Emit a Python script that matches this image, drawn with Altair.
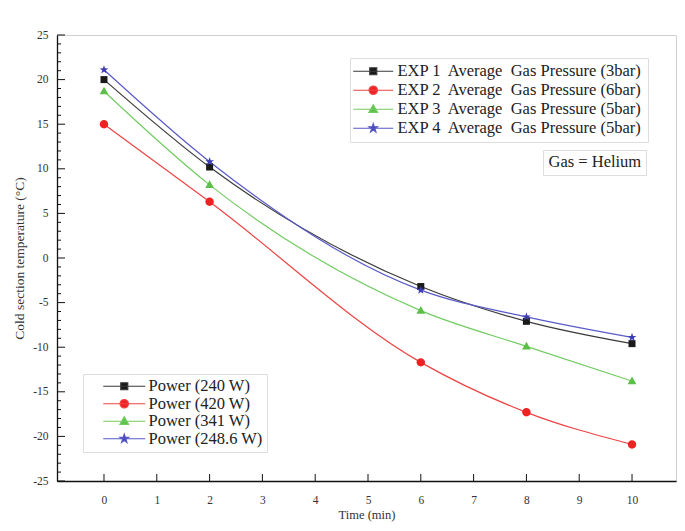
import math
import altair as alt
import pandas as pd

# ---------------- data ----------------
times = [0, 2, 6, 8, 10]
exp1 = [20.0, 10.2, -3.2, -7.1, -9.6]
exp2 = [15.0, 6.3, -11.7, -17.3, -20.9]
exp3 = [18.7, 8.2, -5.9, -9.9, -13.8]
exp4 = [21.1, 10.8, -3.6, -6.6, -8.9]

series_keys = ["s1", "s2", "s3", "s4"]
exp_labels = [
    "EXP 1\u00a0 Average\u00a0 Gas Pressure (3bar)",
    "EXP 2\u00a0 Average\u00a0 Gas Pressure (6bar)",
    "EXP 3\u00a0 Average\u00a0 Gas Pressure (5bar)",
    "EXP 4\u00a0 Average\u00a0 Gas Pressure (5bar)",
]
power_labels = ["Power (240 W)", "Power (420 W)", "Power (341 W)", "Power (248.6 W)"]
note_label = ["Gas = Helium"]

x_ticks = list(range(0, 11))
y_major = list(range(-25, 26, 5))
y_minor = [v for v in range(-25, 26) if v % 5 != 0]

# ---------------- styles ----------------
line_colors = ["#3a3a3a", "#ee4444", "#72cc62", "#5a5ac8"]
marker_colors = ["#1a1a1a", "#ee2222", "#5cc048", "#3c3cb4"]
FONT = "Liberation Serif"
W, H = 619, 446
LFS = 16.5


def star(R, r, cx=0.0):
    pts = []
    for k in range(10):
        a = -math.pi / 2 + k * math.pi / 5
        rad = R if k % 2 == 0 else r
        pts.append(f"{cx + rad * math.cos(a):.3f},{rad * math.sin(a):.3f}")
    return "M" + "L".join(pts) + "Z"


def markers(cx=0.0):
    return [
        f"M{cx - 1:.3f},-1H{cx + 1:.3f}V1H{cx - 1:.3f}Z",
        f"M{cx - 1.2:.3f},0A1.2,1.2,0,1,0,{cx + 1.2:.3f},0A1.2,1.2,0,1,0,{cx - 1.2:.3f},0Z",
        f"M{cx:.3f},-1.3L{cx + 1.25:.3f},0.9L{cx - 1.25:.3f},0.9Z",
        star(1.3, 0.52, cx),
    ]


def legend_paths(x0, x1, cx):
    return [f"M{x0:.3f},0H{x1:.3f}" + m for m in markers(cx)]


marker_paths = markers(0.0)
legend1_paths = legend_paths(-2.86, 8.57, 2.86)
legend2_paths = legend_paths(2.29, 14.29, 8.29)

rows = []
for key, e, p, vals in zip(series_keys, exp_labels, power_labels, [exp1, exp2, exp3, exp4]):
    for t, v in zip(times, vals):
        rows.append({"key": key, "exp": e, "power": p, "t": t, "v": v})
df = pd.DataFrame(rows)

xs = alt.Scale(domain=[-0.89, 10.833], nice=False, zero=False)
ys = alt.Scale(domain=[-25, 25], nice=False, zero=False)

x_axis = alt.Axis(
    values=x_ticks, title="Time (min)", ticks=False, tickSize=0, grid=False,
    labelPadding=13, titlePadding=3, domainColor="#111111", domainWidth=1.3,
    labelFont=FONT, labelFontSize=11.5, labelColor="#333333",
    titleFont=FONT, titleFontSize=12.5, titleFontWeight="normal", titleColor="#333333",
    labelExpr="'' + datum.value",
)
y_axis = alt.Axis(
    values=y_major, title="Cold section temperature (°C)", ticks=False, tickSize=0, grid=False,
    labelPadding=9, titlePadding=6, domainColor="#111111", domainWidth=1.3,
    labelFont=FONT, labelFontSize=11.5, labelColor="#333333",
    titleFont=FONT, titleFontSize=13.5, titleFontWeight="normal", titleColor="#333333",
    labelExpr="'' + datum.value",
)

X = alt.X("t:Q", scale=xs, axis=x_axis)
Y = alt.Y("v:Q", scale=ys, axis=y_axis)

lines = alt.Chart(df).mark_line(interpolate="monotone", strokeWidth=1.2).encode(
    x=X, y=Y,
    color=alt.Color("key:N", scale=alt.Scale(domain=series_keys, range=line_colors), legend=None),
)

points = alt.Chart(df).mark_point(filled=True, size=49, opacity=1).encode(
    x=X, y=Y,
    shape=alt.Shape("key:N", scale=alt.Scale(domain=series_keys, range=marker_paths), legend=None),
    color=alt.Color("key:N", scale=alt.Scale(domain=series_keys, range=marker_colors), legend=None),
)


def legend_layer(field, labels, paths, lx, ly, pad, row_pad, lab_off):
    leg = alt.Legend(
        title=None, orient="none", legendX=lx, legendY=ly,
        strokeColor="#dddddd", fillColor="white", padding=pad,
        labelFont=FONT, labelFontSize=LFS, labelColor="#222222", labelOffset=lab_off,
        labelLimit=500,
        symbolSize=49, symbolStrokeWidth=1.2, symbolOpacity=1, rowPadding=row_pad,
    )
    return alt.Chart(df).mark_point(filled=True, size=49, opacity=0).encode(
        x=X, y=Y,
        shape=alt.Shape(f"{field}:N", scale=alt.Scale(domain=labels, range=paths), legend=leg),
        fill=alt.Fill(f"{field}:N", scale=alt.Scale(domain=labels, range=marker_colors), legend=leg),
        stroke=alt.Stroke(f"{field}:N", scale=alt.Scale(domain=labels, range=line_colors), legend=leg),
    )


leg1 = legend_layer("exp", exp_labels, legend1_paths, 293, 23, 5, 2, 26)
leg2 = legend_layer("power", power_labels, legend2_paths, 26, 339, 4, 0.5, 45)

note = alt.Chart(df).transform_calculate(note="'Gas = Helium'").mark_point(opacity=0).encode(
    x=X, y=Y,
    color=alt.Color("note:N", scale=alt.Scale(domain=note_label, range=["white"]),
                    legend=alt.Legend(title=None, orient="none", legendX=486, legendY=115,
                                      strokeColor="#dddddd", fillColor="white", padding=4,
                                      labelFont=FONT, labelFontSize=LFS, labelColor="#222222",
                                      symbolSize=0, symbolOpacity=0,
                                      labelOffset=alt.ExprRef(expr="-15"))),
)

ymaj = alt.Chart(pd.DataFrame({"v": y_major})).mark_rule(color="#111111", strokeWidth=1).encode(
    y=Y, x=alt.value(0), x2=alt.value(8))
ymin = alt.Chart(pd.DataFrame({"v": y_minor})).mark_rule(color="#111111", strokeWidth=1).encode(
    y=Y, x=alt.value(0), x2=alt.value(4))
xmaj = alt.Chart(pd.DataFrame({"t": x_ticks})).mark_rule(color="#111111", strokeWidth=1).encode(
    x=X, y=alt.value(H), y2=alt.value(H - 7))

chart = alt.layer(lines, points, ymaj, ymin, xmaj, leg1, leg2, note).resolve_scale(
    color="independent", shape="independent", fill="independent", stroke="independent"
).properties(
    width=W, height=H,
    autosize=alt.AutoSizeParams(type="none"),
    padding={"left": 49, "top": 27, "right": 1, "bottom": 42},
    background="white",
).configure_view(stroke="#cfcfcf", strokeWidth=1)

chart.save("out.html", embed_options={"renderer": "svg", "actions": False})
